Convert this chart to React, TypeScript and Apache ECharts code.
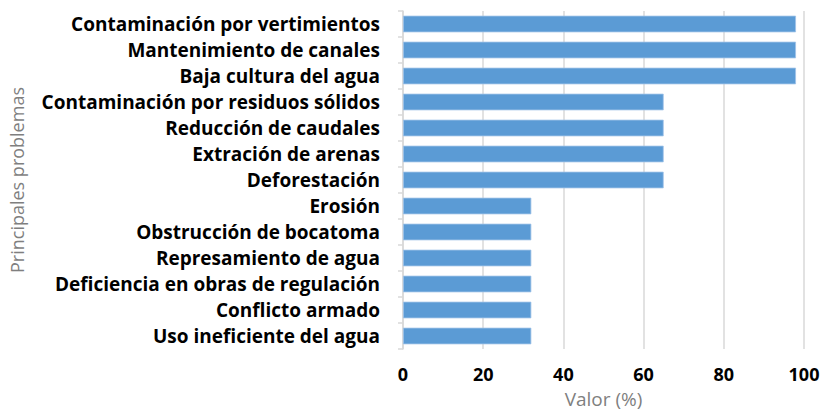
import React, { useEffect, useRef } from "react";
import * as echarts from "echarts";

const categories = [
  "Contaminación por vertimientos",
  "Mantenimiento de canales",
  "Baja cultura del agua",
  "Contaminación por residuos sólidos",
  "Reducción de caudales",
  "Extración de arenas",
  "Deforestación",
  "Erosión",
  "Obstrucción de bocatoma",
  "Represamiento de agua",
  "Deficiencia en obras de regulación",
  "Conflicto armado",
  "Uso ineficiente del agua",
];
const values = [98, 98, 98, 65, 65, 65, 65, 32, 32, 32, 32, 32, 32];
const xTicks = [0, 20, 40, 60, 80, 100];

export default function App() {
  const ref = useRef<HTMLDivElement>(null);
  useEffect(() => {
    if (!ref.current) return;
    const chart = echarts.init(ref.current, null, { renderer: "svg" });
    chart.setOption({
      animation: false,
      grid: { left: 403, right: 18, top: 11, bottom: 63, containLabel: false, outerBoundsMode: "none" },
      xAxis: {
        type: "value",
        min: xTicks[0],
        max: xTicks[xTicks.length - 1],
        interval: 20,
        name: "Valor (%)",
        nameLocation: "middle",
        nameGap: 40,
        nameTextStyle: { color: "#7f7f7f", fontSize: 19, fontFamily: "Open Sans" },
        axisLine: { show: false },
        axisTick: { show: false },
        axisLabel: {
          color: "#000",
          fontWeight: "bold",
          fontSize: 18,
          fontFamily: "Open Sans",
          margin: 16,
        },
        splitLine: { show: true, lineStyle: { color: "#d9d9d9", width: 1.5 } },
      },
      yAxis: {
        type: "category",
        inverse: true,
        data: categories,
        name: "Principales problemas",
        nameLocation: "middle",
        nameGap: 377,
        nameTextStyle: { color: "#7f7f7f", fontSize: 18, fontFamily: "Open Sans" },
        axisLine: { show: true, lineStyle: { color: "#d9d9d9", width: 1.5 } },
        axisTick: { show: true, length: 5, lineStyle: { color: "#d9d9d9", width: 1.5 } },
        axisLabel: {
          color: "#000",
          fontWeight: "bold",
          fontSize: 19,
          fontFamily: "Open Sans",
          margin: 23,
        },
      },
      series: [
        {
          type: "bar",
          data: values,
          barCategoryGap: "36%",
          itemStyle: { color: "#5b9bd5", borderColor: "#9fc3e8", borderWidth: 0.8 },
        },
      ],
    });
    return () => chart.dispose();
  }, []);
  return <div ref={ref} style={{ width: 822, height: 412, position: "absolute", left: 0, top: 0 }} />;
}
